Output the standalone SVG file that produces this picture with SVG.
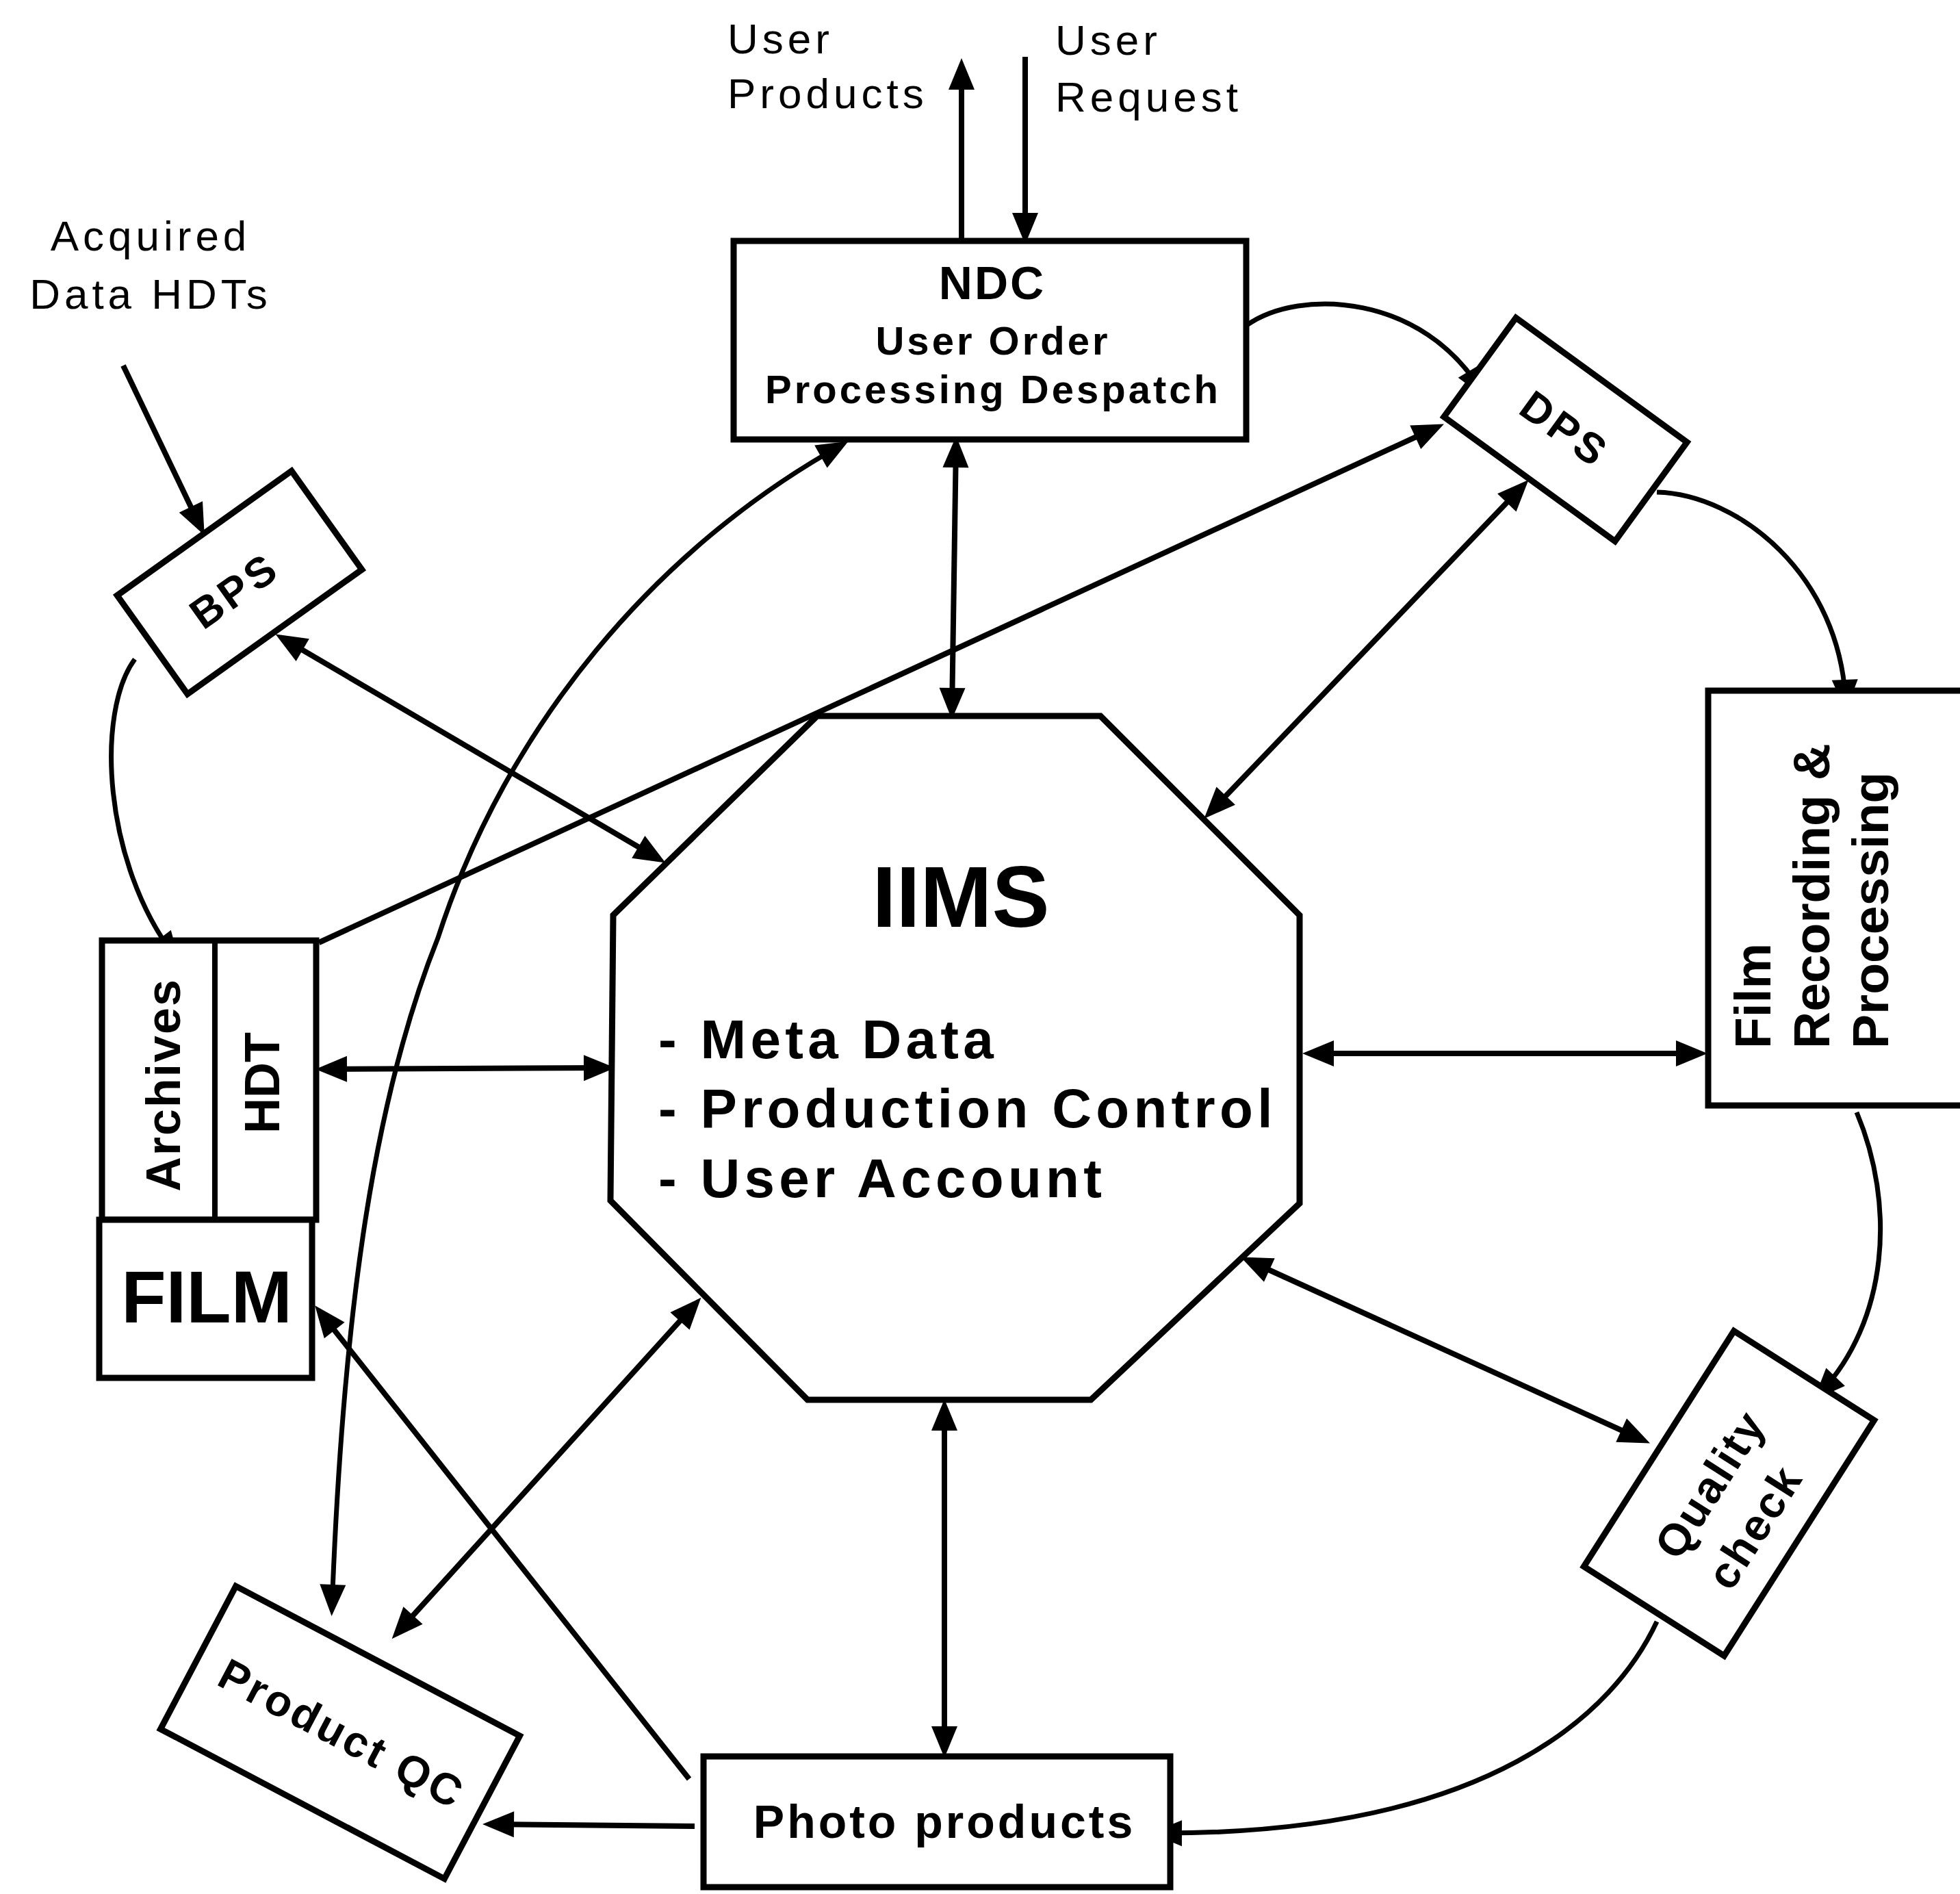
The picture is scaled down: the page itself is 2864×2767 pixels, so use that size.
<svg xmlns="http://www.w3.org/2000/svg" width="2864" height="2767" viewBox="0 0 2864 2767">
<style>
.box{fill:#fff;stroke:#000;stroke-width:9}
.ln{fill:none;stroke:#000;stroke-width:8}
.cv{fill:none;stroke:#000;stroke-width:7}
.bi{marker-start:url(#ah);marker-end:url(#ah)}
.one{marker-end:url(#ah)}
text{font-family:"Liberation Sans",Arial,sans-serif;fill:#000}
.b{font-weight:bold}
.lab{font-size:62px;letter-spacing:6px}
</style>
<defs>
<marker id="ah" markerUnits="userSpaceOnUse" markerWidth="46" markerHeight="42" refX="35" refY="21" orient="auto-start-reverse" overflow="visible">
<path d="M0,2 L46,21 L0,40 z" fill="#000"/>
</marker>
</defs>
<rect width="2864" height="2767" fill="#fff"/>

<g id="connectors">
<line class="ln one" x1="1405" y1="352" x2="1405" y2="96"/>
<line class="ln one" x1="1498" y1="83" x2="1498" y2="346"/>
<line class="ln one" x1="180" y1="534" x2="294" y2="772"/>
<line class="ln one" x1="466" y1="1377" x2="2100" y2="624"/>
<line class="ln bi" x1="1397" y1="648" x2="1391" y2="1040"/>
<line class="ln bi" x1="2226" y1="709" x2="1767" y2="1188"/>
<line class="ln bi" x1="412" y1="932" x2="963" y2="1255"/>
<line class="ln bi" x1="472" y1="1562" x2="888" y2="1560"/>
<line class="ln bi" x1="1914" y1="1539" x2="2484" y2="1539"/>
<line class="ln bi" x1="1823" y1="1841" x2="2401" y2="2104"/>
<line class="ln bi" x1="1380" y1="2055" x2="1380" y2="2557"/>
<line class="ln bi" x1="1017" y1="1904" x2="580" y2="2386"/>
<line class="ln one" x1="1007" y1="2599" x2="467" y2="1916"/>
<line class="ln one" x1="1015" y1="2668" x2="716" y2="2665"/>
<path class="cv bi" d="M1230,650 C960,800 740,1060 640,1370 C540,1620 500,1950 485,2350"/>
<path class="cv one" d="M1822,475 C1900,420 2080,430 2165,572"/>
<path class="cv one" d="M2421,719 C2540,722 2690,840 2697,1028"/>
<path class="cv one" d="M2713,1625 C2770,1760 2760,1930 2658,2037"/>
<path class="cv one" d="M2421,2369 C2360,2500 2180,2680 1692,2678"/>
<path class="cv one" d="M197,963 C140,1040 150,1260 256,1398"/>
</g>

<g id="labels">
<text class="lab" x="1063" y="78">User</text>
<text class="lab" x="1063" y="158">Products</text>
<text class="lab" x="1542" y="80">User</text>
<text class="lab" x="1542" y="163">Request</text>
<text class="lab" x="220" y="366" text-anchor="middle">Acquired</text>
<text class="lab" x="220" y="451" text-anchor="middle">Data HDTs</text>
</g>

<g id="ndc">
<rect class="box" x="1072" y="352" width="749" height="290"/>
<text class="b" x="1450" y="437" font-size="68" letter-spacing="3" text-anchor="middle">NDC</text>
<text class="b" x="1451" y="518" font-size="58" letter-spacing="4" text-anchor="middle">User Order</text>
<text class="b" x="1451" y="589" font-size="58" letter-spacing="4" text-anchor="middle">Processing Despatch</text>
</g>

<g id="bps">
<rect class="box" x="-156.5" y="-88.5" width="313" height="177" transform="translate(350,851) rotate(-35.5)"/>
<text class="b" font-size="62" letter-spacing="5" text-anchor="middle" dy="0.36em" transform="translate(342,862) rotate(-35.5)">BPS</text>
</g>

<g id="dps">
<rect class="box" x="-154.5" y="-89.5" width="309" height="179" transform="translate(2287.5,627.5) rotate(36)"/>
<text class="b" font-size="62" letter-spacing="5" text-anchor="middle" dy="0.36em" transform="translate(2287,626) rotate(36)">DPS</text>
</g>

<g id="iims">
<polygon class="box" points="1194,1046 1608,1046 1899,1337 1899,1758 1594,2045 1180,2045 892,1754 896,1337"/>
<text class="b" x="1404" y="1354" font-size="126" text-anchor="middle">IIMS</text>
<text class="b" x="962" y="1546" font-size="80" letter-spacing="6.3">- Meta Data</text>
<text class="b" x="962" y="1647" font-size="80" letter-spacing="6.3">- Production Control</text>
<text class="b" x="962" y="1749" font-size="80" letter-spacing="6.3">- User Account</text>
</g>

<g id="film-recording">
<rect class="box" x="2496" y="1009" width="400" height="606"/>
<text class="b" font-size="75" transform="translate(2587,1532) rotate(-90)">Film</text>
<text class="b" font-size="75" transform="translate(2673,1532) rotate(-90)">Recording &amp;</text>
<text class="b" font-size="75" transform="translate(2759,1532) rotate(-90)">Processing</text>
</g>

<g id="quality-check">
<rect class="box" x="-121.5" y="-204" width="243" height="408" transform="translate(2526.5,2181.75) rotate(32.5)"/>
<text class="b" font-size="65" letter-spacing="3" text-anchor="middle" dy="0.36em" transform="translate(2498,2168) rotate(-57.5)">Quality</text>
<text class="b" font-size="65" letter-spacing="3" text-anchor="middle" dy="0.36em" transform="translate(2563,2230) rotate(-57.5)">check</text>
</g>

<g id="photo-products">
<rect class="box" x="1028" y="2566" width="682" height="191"/>
<text class="b" x="1380" y="2685" font-size="68" letter-spacing="4" text-anchor="middle">Photo products</text>
</g>

<g id="product-qc">
<rect class="box" x="-234.5" y="-118" width="469" height="236" transform="translate(497,2531) rotate(27.8)"/>
<text class="b" font-size="64" letter-spacing="4" text-anchor="middle" dy="0.36em" transform="translate(500,2532) rotate(27.8)">Product QC</text>
</g>

<g id="archives-hdt-film">
<rect class="box" x="149" y="1374" width="313" height="408"/>
<line class="ln" x1="314" y1="1374" x2="314" y2="1782"/>
<rect class="box" x="145" y="1782" width="311" height="231"/>
<text class="b" font-size="70" letter-spacing="2" text-anchor="middle" transform="translate(263,1585) rotate(-90)">Archives</text>
<text class="b" font-size="72" text-anchor="middle" transform="translate(408,1582) rotate(-90)">HDT</text>
<text class="b" x="302" y="1932" font-size="107" text-anchor="middle">FILM</text>
</g>
</svg>
